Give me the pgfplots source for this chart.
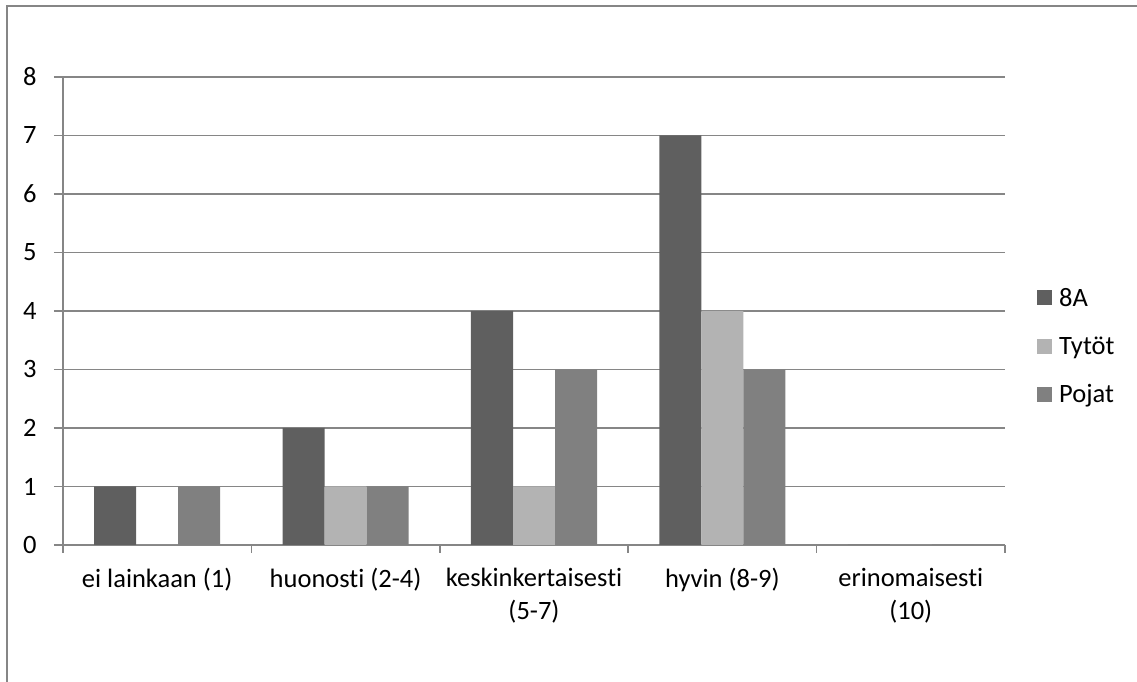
\documentclass[border=0pt]{standalone}
\usepackage{fontspec}
\setmainfont{Carlito}[RawFeature={-liga;-clig;-dlig}]
\usepackage{pgfplots}
\pgfplotsset{compat=1.18}

\definecolor{cA}{HTML}{5F5F5F}
\definecolor{cT}{HTML}{B3B3B3}
\definecolor{cP}{HTML}{808080}
\definecolor{gridc}{HTML}{868686}

\begin{document}
\begin{tikzpicture}[x=1bp,y=1bp]
\useasboundingbox (0,0) rectangle (1137,682);
% outer chart frame
\draw[gridc, line width=2bp] (7.3,-5) -- (7.3,676) -- (1145,676);
\begin{axis}[
  at={(63bp,137bp)}, anchor=south west,
  scale only axis,
  width=942bp, height=468bp,
  xmin=-0.5, xmax=4.5,
  ymin=0, ymax=8,
  ytick={0,...,8},
  xtick={0,1,2,3,4},
  xticklabels={ei lainkaan (1), huonosti (2-4), keskinkertaisesti\\(5-7), hyvin (8-9), erinomaisesti\\(10)},
  minor xtick={-0.5,0.5,1.5,2.5,3.5,4.5},
  major x tick style={draw=none},
  axis lines*=left,
  axis line style={gridc, line width=1.5bp},
  tick align=outside,
  xtick pos=bottom, ytick pos=left,
  major tick length=9bp,
  minor tick length=8bp,
  every tick/.style={gridc, line width=1.5bp},
  ymajorgrids,
  major grid style={gridc, line width=1.5bp},
  /pgf/number format/assume math mode=true,
  tick label style={font=\fontsize{26.5bp}{33bp}\selectfont, text=black},
  yticklabel style={xshift=-14bp},
  xticklabel style={align=center, anchor=north, inner sep=0pt, yshift=-14bp},
  ybar, bar width=0.223,
  legend style={at={(axis description cs:1.034,0.425)}, anchor=west, draw=none, fill=none,
    font=\fontsize{26.5bp}{33bp}\selectfont, row sep=25bp, inner sep=0pt,
    /tikz/every odd column/.style={column sep=5bp}},
  legend cell align=left,
  legend image code/.code={\fill[#1] (0bp,-7.5bp) rectangle (15bp,7.5bp);},
]
\addplot[fill=cA, draw=none, bar shift=-0.223] coordinates {(0,1) (1,2) (2,4) (3,7) (4,0)};
\addplot[fill=cT, draw=none, bar shift=0] coordinates {(0,0) (1,1) (2,1) (3,4) (4,0)};
\addplot[fill=cP, draw=none, bar shift=0.223] coordinates {(0,1) (1,1) (2,3) (3,3) (4,0)};
\legend{8A, Tytöt, Pojat}
\end{axis}
\end{tikzpicture}
\end{document}
